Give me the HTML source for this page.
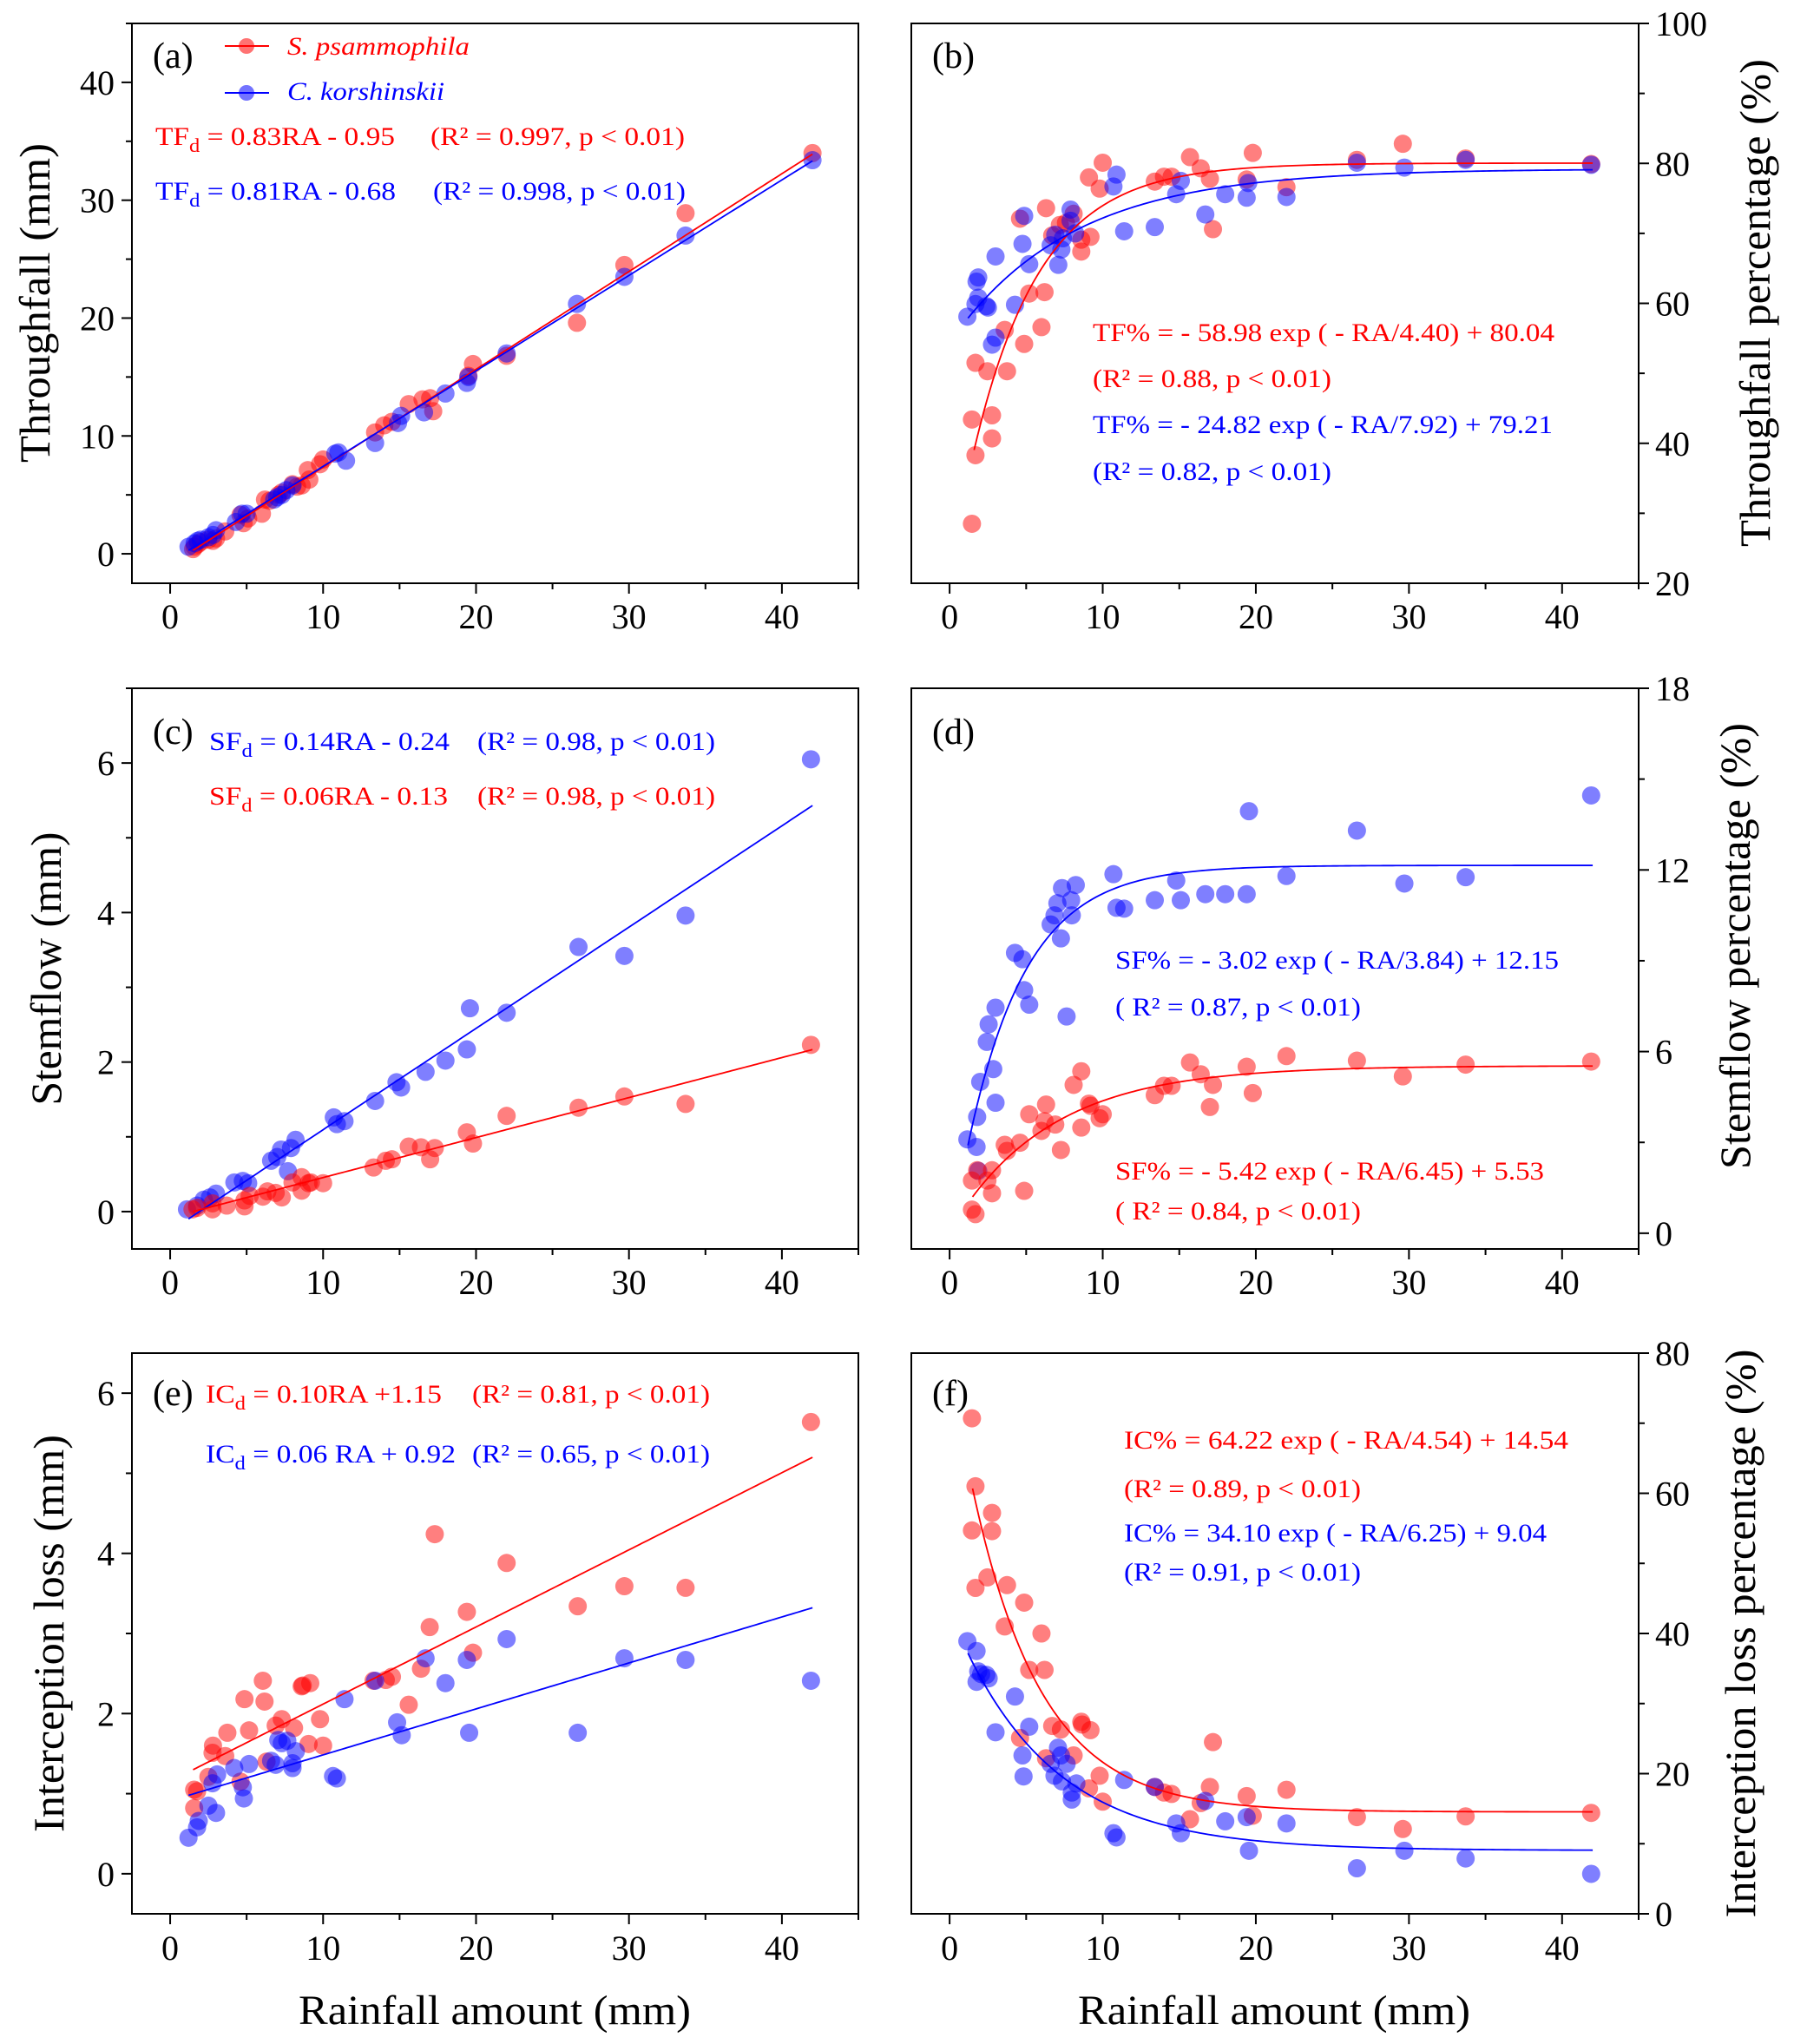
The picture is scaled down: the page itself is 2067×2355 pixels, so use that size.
<!DOCTYPE html>
<html><head><meta charset="utf-8">
<style>
html,body{margin:0;padding:0;background:#fff;}
svg{display:block;font-family:"Liberation Serif","Times New Roman",serif;}
</style></head>
<body>
<svg id="fig" xmlns="http://www.w3.org/2000/svg" width="2067" height="2355" viewBox="0 0 2067 2355" font-family="Liberation Serif, serif"></svg>
<script>
// ---------- DATA ----------
// (a) throughfall depth (mm)
const aRedX = [1.5,1.6,1.8,2.0,2.5,2.8,3.0,3.6,4.6,4.8,5.1,6.0,6.2,6.5,7.1,7.3,8.0,8.3,8.6,9.0,9.1,9.8,10.0,13.4,14.0,14.5,15.6,16.5,17.0,17.2,19.5,19.8,22.0,26.6,29.7,33.7,42.0];
const aRedY = [0.4,0.6,0.8,1.0,1.2,1.1,1.3,1.9,3.3,2.6,3.0,3.4,4.6,4.5,5.0,5.2,5.9,5.7,5.8,7.1,6.3,7.6,8.0,10.3,10.9,11.2,12.7,13.1,13.2,12.1,15.1,16.1,16.8,19.6,24.5,28.9,34.0];
const aBlueX = [1.2,1.6,1.8,2.0,2.5,2.8,3.0,4.3,4.7,5.0,6.8,7.0,7.3,7.6,8.0,10.8,11.0,11.5,13.4,14.9,15.1,16.6,18.0,19.4,19.5,22.0,26.6,29.7,33.7,42.0];
const aBlueY = [0.6,0.9,1.1,1.2,1.4,1.6,2.0,2.7,3.4,3.4,4.6,4.8,5.0,5.4,5.8,8.5,8.6,7.9,9.4,11.1,11.7,12.0,13.6,14.5,15.0,17.0,21.2,23.5,27.0,33.4];
const aFitRed = [0.83,-0.95], aFitBlue = [0.81,-0.68];
// (b) throughfall percentage
const bRedX = [1.46,1.69,1.46,2.77,2.77,1.69,2.47,3.75,3.6,4.87,5.2,6.2,6.0,4.6,6.3,6.7,7.2,7.6,8.1,8.6,8.6,9.2,9.1,9.8,10.0,13.4,14.0,14.5,15.7,16.4,17.0,17.2,19.4,19.8,22.0,26.6,29.6,33.7,41.9];
const bRedY = [28.5,38.3,43.4,44.0,40.7,51.5,50.3,50.3,56.2,54.2,61.4,61.6,56.6,72.1,73.6,69.7,71.2,71.5,72.8,69.1,67.4,69.5,78.0,76.4,80.1,77.4,78.1,78.1,80.9,79.3,77.8,70.6,77.7,81.5,76.6,80.5,82.8,80.7,79.9];
const bBlueX = [1.16,1.69,1.87,1.76,1.87,2.4,2.5,2.77,3.0,3.0,4.27,4.76,4.87,5.2,6.6,6.9,7.3,7.1,7.4,7.9,7.9,8.2,10.7,10.9,11.4,13.4,14.8,15.1,16.7,18.0,19.4,19.5,22.0,26.6,29.7,33.7,41.9];
const bBlueY = [58.1,59.9,60.8,63.1,63.7,59.6,59.4,54.1,55.1,66.7,59.8,68.5,72.5,65.6,68.3,69.8,67.7,65.5,69.3,73.4,71.8,70.0,76.7,78.4,70.3,70.9,75.6,77.5,72.7,75.6,75.1,77.2,75.2,80.1,79.4,80.5,79.8];
const bFitRed = [-58.98,4.40,80.04], bFitBlue = [-24.82,7.92,79.21];
// (c) stemflow depth (mm)
const cBlueX = [1.1,1.76,2.2,2.6,3.0,4.2,4.75,5.1,6.6,7.0,7.25,7.7,7.9,8.2,10.7,10.9,11.4,13.4,14.8,15.1,16.7,18.0,19.4,19.6,22.0,26.7,29.7,33.7,41.9];
const cBlueY = [0.03,0.08,0.16,0.19,0.24,0.39,0.41,0.38,0.68,0.73,0.83,0.54,0.85,0.96,1.26,1.17,1.21,1.48,1.73,1.66,1.87,2.02,2.17,2.72,2.66,3.54,3.42,3.96,6.05];
const cRedX = [1.46,1.76,2.77,2.77,3.7,4.86,4.86,5.2,6.06,6.36,6.9,7.3,8.0,8.6,8.6,9.05,9.2,10.0,13.3,14.1,14.5,15.6,16.4,17.0,17.3,19.4,19.8,22.0,26.7,29.7,33.7,41.9];
const cRedY = [0.03,0.05,0.03,0.11,0.08,0.07,0.15,0.21,0.2,0.27,0.25,0.19,0.39,0.46,0.28,0.38,0.39,0.38,0.59,0.68,0.7,0.87,0.86,0.7,0.85,1.06,0.91,1.28,1.39,1.54,1.44,2.23];
const cFitBlue = [0.1355,-0.26], cFitRed = [0.0535,-0.08];
// (d) stemflow percentage
const dBlueX = [1.16,1.76,1.8,2.0,1.87,2.85,3.0,2.43,2.55,3.0,4.27,4.76,4.87,5.2,6.6,6.85,7.04,7.27,7.34,7.64,7.94,7.98,8.24,10.7,10.9,11.4,13.4,14.8,15.1,16.7,18.0,19.4,19.55,22.0,26.6,29.7,33.7,41.9];
const dBlueY = [3.1,2.85,3.84,5.0,2.06,5.42,4.31,6.32,6.9,7.45,9.26,9.05,8.03,7.55,10.2,10.5,10.9,9.74,11.4,7.16,11.0,10.5,11.5,11.86,10.75,10.72,11.0,11.65,11.0,11.2,11.2,11.2,13.94,11.8,13.3,11.55,11.76,14.46];
const dRedX = [1.46,1.69,1.46,1.8,2.47,2.77,2.77,3.6,3.75,4.6,4.87,5.2,6.0,6.2,6.3,6.9,7.27,8.1,8.6,8.6,9.1,9.2,9.8,10.0,13.4,14.0,14.5,15.7,16.4,17.0,17.2,19.4,19.8,22.0,26.6,29.6,33.7,41.9];
const dRedY = [0.78,0.63,1.74,2.08,1.74,1.32,2.08,2.92,2.72,2.99,1.4,3.93,3.38,3.7,4.25,3.59,2.75,4.9,3.49,5.35,4.28,4.21,3.8,3.93,4.56,4.87,4.87,5.64,5.25,4.17,4.9,5.5,4.63,5.85,5.7,5.18,5.57,5.67];
const dFitBlue = [-12.64,3.84,12.15], dFitRed = [-5.46,6.45,5.53];
// (e) interception loss (mm)
const eRedX = [1.57,1.57,1.76,2.5,2.8,2.77,3.74,3.6,4.6,4.86,5.16,6.06,6.17,6.3,6.9,7.3,8.1,8.6,8.67,9.16,9.05,9.8,10.0,13.3,14.1,14.5,15.6,16.4,16.97,17.3,19.4,19.8,22.0,26.65,29.7,33.7,41.9];
const eRedY = [0.82,1.05,1.03,1.21,1.6,1.51,1.76,1.47,1.15,2.18,1.79,2.41,2.15,1.4,1.85,1.93,1.82,2.34,2.35,2.38,1.62,1.93,1.6,2.41,2.42,2.46,2.11,2.56,3.08,4.24,3.27,2.76,3.88,3.34,3.59,3.57,5.64];
const eBlueX = [1.2,1.76,1.87,2.5,3.0,2.77,3.07,4.19,4.75,4.82,5.16,6.6,6.9,7.07,7.3,7.66,8.0,8.0,8.22,10.65,10.9,11.4,13.4,14.84,15.14,16.7,18.0,19.4,19.55,22.0,26.65,29.7,33.7,41.9];
const eBlueY = [0.45,0.58,0.66,0.85,0.76,1.13,1.24,1.32,1.08,0.94,1.37,1.41,1.36,1.67,1.63,1.66,1.32,1.38,1.53,1.22,1.19,2.18,2.41,1.89,1.73,2.69,2.38,2.67,1.76,2.93,1.76,2.69,2.67,2.41];
const eFitRed = [0.0963,1.155], eFitBlue = [0.0574,0.91];
// (f) interception loss percentage
const fRedX = [1.46,1.69,1.46,2.77,2.77,1.69,2.47,3.75,3.6,4.87,6.0,5.2,6.2,4.6,6.7,7.27,6.3,8.1,8.6,8.65,9.2,9.1,9.8,10.0,13.4,14.0,14.5,15.7,16.4,17.0,17.2,19.4,19.8,22.0,26.6,29.6,33.7,41.9];
const fRedY = [70.7,61.0,54.7,57.2,54.6,46.5,48.0,46.9,41.0,44.4,40.0,34.8,34.8,25.1,26.8,26.3,22.2,22.6,27.4,27.0,26.2,17.9,19.7,16.0,18.1,17.3,17.1,13.5,15.8,18.1,24.5,16.8,14.0,17.7,13.8,12.1,13.9,14.4];
const fBlueX = [1.16,1.76,1.87,2.06,1.76,2.4,2.55,3.0,4.27,4.76,4.83,5.2,6.6,6.85,7.08,7.27,7.34,7.64,7.98,7.98,8.28,10.7,10.9,11.4,13.4,14.8,15.1,16.7,18.0,19.4,19.55,22.0,26.6,29.7,33.7,41.9];
const fBlueY = [38.9,37.5,34.6,34.2,33.1,34.1,33.6,25.9,31.0,22.6,19.6,26.7,21.4,19.7,23.7,22.6,18.9,21.4,17.3,16.3,18.6,11.5,10.9,19.1,18.1,12.9,11.5,16.1,13.2,13.8,9.0,12.9,6.5,9.0,7.9,5.7];
const fFitRed = [64.22,4.54,14.54], fFitBlue = [34.10,6.25,9.04];
// axis ticks
const xTicks = [0,10,20,30,40];
const aYTicks = [0,10,20,30,40];
const bYTicks = [20,40,60,80,100];
const cYTicks = [0,2,4,6];
const dYTicks = [0,6,12,18];
const eYTicks = [0,2,4,6];
const fYTicks = [0,20,40,60,80];

// ---------- DRAWING ----------
const NS = 'http://www.w3.org/2000/svg';
const svg = document.getElementById('fig');
function mk(tag, attrs, parent){
  const e = document.createElementNS(NS, tag);
  for (const k in attrs) e.setAttribute(k, attrs[k]);
  (parent||svg).appendChild(e);
  return e;
}
const RED='#ff0000', BLUE='#0000ff';

function panel(cfg){
  const g = mk('g', {});
  
  
  const L=cfg.L,R=cfg.R,T=cfg.T,B=cfg.B;
  const xs = v => L + (v - (-2.5)) / 47.5 * (R - L);
  const ys = v => B - (v - cfg.ymin) / (cfg.ymax - cfg.ymin) * (B - T);
  const frame = mk('rect', {x:L,y:T,width:R-L,height:B-T,fill:'none',stroke:'#000','stroke-width':2}, g);
  
  
  for (let v=0; v<=45; v+=5){
    const major = v%10===0;
    mk('line',{x1:xs(v),x2:xs(v),y1:B,y2:B+(major?12:7),stroke:'#000','stroke-width':2},g);
  }
  xTicks.forEach(v=>{
    const t = mk('text',{x:xs(v),y:cfg.xlabY,'font-size':40,'text-anchor':'middle'},g);
    t.textContent = v;
    
    
  });
  const yt = cfg.yticks;
  const step = (yt[1]-yt[0])/2;
  for (let v=yt[0]; v<=cfg.ymax+1e-9; v+=step){
    const major = Math.abs(((v-yt[0])/(step*2)) - Math.round((v-yt[0])/(step*2)))<1e-6;
    const y = ys(v);
    if (cfg.right) mk('line',{x1:R,x2:R+(major?12:7),y1:y,y2:y,stroke:'#000','stroke-width':2},g);
    else mk('line',{x1:L,x2:L-(major?12:7),y1:y,y2:y,stroke:'#000','stroke-width':2},g);
  }
  yt.forEach(v=>{
    const t = cfg.right
      ? mk('text',{x:R+19,y:ys(v)+14,'font-size':40,'text-anchor':'start'},g)
      : mk('text',{x:L-20,y:ys(v)+14,'font-size':40,'text-anchor':'end'},g);
    t.textContent = v;
    
    
  });
  const cid = 'clip-'+cfg.id;
  const cp = mk('clipPath',{id:cid},g);
  mk('rect',{x:L,y:T,width:R-L,height:B-T},cp);
  const inner = mk('g',{'clip-path':'url(#'+cid+')'},g);
  cfg.series.forEach(s=>{
    const sg = mk('g',{},inner);
    
    
    s.x.forEach((xv,i)=>{
      const c = mk('circle',{cx:xs(xv),cy:ys(s.y[i]),r:10.5,fill:s.color,'fill-opacity':0.5},sg);
      
      
    });
  });
  cfg.fits.forEach(f=>{
    let d='';
    const n=200;
    for(let i=0;i<=n;i++){
      const xv = f.x0 + (f.x1-f.x0)*i/n;
      const yv = f.fn(xv);
      d += (i?'L':'M') + xs(xv).toFixed(2) + ',' + ys(yv).toFixed(2);
    }
    const p = mk('path',{d:d,fill:'none',stroke:f.color,'stroke-width':1.8},inner);
    
    
  });
  const lt = mk('text',{x:L+24,y:cfg.labY,'font-size':42},g);
  lt.textContent = '(' + cfg.id + ')';
  
  
  const yt2 = mk('text',{x:0,y:0,'font-size':50,'text-anchor':'middle','transform':'translate('+cfg.yTitle[0]+','+cfg.yTitle[1]+') rotate(-90)','textLength':cfg.yTitle[3],'lengthAdjust':'spacingAndGlyphs',dy:17},g);
  yt2.textContent = cfg.yTitle[2];
  
  
  return g;
}

function lin(p){ return x => p[0]*x + p[1]; }
function expf(p){ return x => p[0]*Math.exp(-x/p[1]) + p[2]; }

function eq(parts, x, y, color, len, name){
  const t = mk('text',{x:x,y:y,'font-size':30,fill:color,textLength:len,lengthAdjust:'spacingAndGlyphs'});
  parts.forEach(pt=>{
    const s = mk('tspan',{},t);
    if (pt.sub){ s.setAttribute('font-size',22); s.setAttribute('dy',8); }
    else if (pt.back){ s.setAttribute('dy',-8); }
    s.textContent = pt.t;
  });
  
  
}

const Lx=[152,989], Rx=[1050,1888];
const rows=[[27,672],[793,1439],[1559,2205]];

panel({id:'a',L:Lx[0],R:Lx[1],T:rows[0][0],B:rows[0][1],ymin:-2.5,ymax:45,yticks:aYTicks,right:false,xlabY:724,labY:78,
  yTitle:[40,349,'Throughfall (mm)',368],
  series:[{name:'s-psammophila-points',x:aRedX,y:aRedY,color:RED},{name:'c-korshinskii-points',x:aBlueX,y:aBlueY,color:BLUE}],
  fits:[{name:'red-linear-fit',x0:1.5,x1:42,fn:lin(aFitRed),color:RED},{name:'blue-linear-fit',x0:1.2,x1:42,fn:lin(aFitBlue),color:BLUE}]});
panel({id:'b',L:Rx[0],R:Rx[1],T:rows[0][0],B:rows[0][1],ymin:20,ymax:100,yticks:bYTicks,right:true,xlabY:724,labY:78,
  yTitle:[2022,349,'Throughfall percentage (%)',562],
  series:[{name:'s-psammophila-points',x:bRedX,y:bRedY,color:RED},{name:'c-korshinskii-points',x:bBlueX,y:bBlueY,color:BLUE}],
  fits:[{name:'red-exp-fit',x0:1.6,x1:42,fn:expf(bFitRed),color:RED},{name:'blue-exp-fit',x0:1.2,x1:42,fn:expf(bFitBlue),color:BLUE}]});
panel({id:'c',L:Lx[0],R:Lx[1],T:rows[1][0],B:rows[1][1],ymin:-0.5,ymax:7,yticks:cYTicks,right:false,xlabY:1491,labY:857,
  yTitle:[53,1116,'Stemflow (mm)',315],
  series:[{name:'c-korshinskii-points',x:cBlueX,y:cBlueY,color:BLUE},{name:'s-psammophila-points',x:cRedX,y:cRedY,color:RED}],
  fits:[{name:'blue-linear-fit',x0:1.2,x1:42,fn:lin(cFitBlue),color:BLUE},{name:'red-linear-fit',x0:1.5,x1:42,fn:lin(cFitRed),color:RED}]});
panel({id:'d',L:Rx[0],R:Rx[1],T:rows[1][0],B:rows[1][1],ymin:-0.52,ymax:18,yticks:dYTicks,right:true,xlabY:1491,labY:857,
  yTitle:[1999,1090,'Stemflow percentage (%)',514],
  series:[{name:'c-korshinskii-points',x:dBlueX,y:dBlueY,color:BLUE},{name:'s-psammophila-points',x:dRedX,y:dRedY,color:RED}],
  fits:[{name:'blue-exp-fit',x0:1.2,x1:42,fn:expf(dFitBlue),color:BLUE},{name:'red-exp-fit',x0:1.5,x1:42,fn:expf(dFitRed),color:RED}]});
panel({id:'e',L:Lx[0],R:Lx[1],T:rows[2][0],B:rows[2][1],ymin:-0.5,ymax:6.5,yticks:eYTicks,right:false,xlabY:2258,labY:1619,
  yTitle:[56,1882,'Interception loss (mm)',458],
  series:[{name:'s-psammophila-points',x:eRedX,y:eRedY,color:RED},{name:'c-korshinskii-points',x:eBlueX,y:eBlueY,color:BLUE}],
  fits:[{name:'red-linear-fit',x0:1.5,x1:42,fn:lin(eFitRed),color:RED},{name:'blue-linear-fit',x0:1.2,x1:42,fn:lin(eFitBlue),color:BLUE}]});
panel({id:'f',L:Rx[0],R:Rx[1],T:rows[2][0],B:rows[2][1],ymin:0,ymax:80,yticks:fYTicks,right:true,xlabY:2258,labY:1619,
  yTitle:[2005,1882,'Interception loss percentage (%)',655],
  series:[{name:'s-psammophila-points',x:fRedX,y:fRedY,color:RED},{name:'c-korshinskii-points',x:fBlueX,y:fBlueY,color:BLUE}],
  fits:[{name:'red-exp-fit',x0:1.5,x1:42,fn:expf(fFitRed),color:RED},{name:'blue-exp-fit',x0:1.2,x1:42,fn:expf(fFitBlue),color:BLUE}]});

[[570,'x-axis-title-e'],[1468,'x-axis-title-f']].forEach(a=>{
  const t = mk('text',{x:a[0],y:2332,'font-size':48,'text-anchor':'middle',textLength:452,lengthAdjust:'spacingAndGlyphs'});
  t.textContent='Rainfall amount (mm)';
  
  
});

[[53,RED,'S. psammophila',63,210,'legend-entry-s-psammophila'],[107,BLUE,'C. korshinskii',115,181,'legend-entry-c-korshinskii']].forEach(l=>{
  const g = mk('g',{});
  
  
  mk('line',{x1:259,x2:310,y1:l[0],y2:l[0],stroke:l[1],'stroke-width':2},g);
  mk('circle',{cx:284,cy:l[0],r:9,fill:l[1],'fill-opacity':0.55},g);
  const t = mk('text',{x:331,y:l[3],'font-size':30,'font-style':'italic',fill:l[1],textLength:l[4],lengthAdjust:'spacingAndGlyphs'},g);
  t.textContent=l[2];
});

eq([{t:'TF'},{t:'d',sub:1},{t:' = 0.83RA - 0.95',back:1}],179,167,RED,276,'eq-a-red');
eq([{t:'(R² = 0.997, p < 0.01)'}],496,167,RED,293,'stats-a-red');
eq([{t:'TF'},{t:'d',sub:1},{t:' = 0.81RA - 0.68',back:1}],179,230,BLUE,277,'eq-a-blue');
eq([{t:'(R² = 0.998, p < 0.01)'}],499,230,BLUE,291,'stats-a-blue');

eq([{t:'TF% = - 58.98 exp ( - RA/4.40) + 80.04'}],1259,393,RED,532,'eq-b-red');
eq([{t:'(R² = 0.88, p < 0.01)'}],1259,446,RED,275,'stats-b-red');
eq([{t:'TF% = - 24.82 exp ( - RA/7.92) + 79.21'}],1259,499,BLUE,530,'eq-b-blue');
eq([{t:'(R² = 0.82, p < 0.01)'}],1259,553,BLUE,275,'stats-b-blue');

eq([{t:'SF'},{t:'d',sub:1},{t:' = 0.14RA - 0.24',back:1}],241,864,BLUE,277,'eq-c-blue');
eq([{t:'(R² = 0.98, p < 0.01)'}],550,864,BLUE,274,'stats-c-blue');
eq([{t:'SF'},{t:'d',sub:1},{t:' = 0.06RA - 0.13',back:1}],241,927,RED,275,'eq-c-red');
eq([{t:'(R² = 0.98, p < 0.01)'}],550,927,RED,274,'stats-c-red');

eq([{t:'SF% = - 3.02 exp ( - RA/3.84) + 12.15'}],1285,1116,BLUE,511,'eq-d-blue');
eq([{t:'( R² = 0.87, p < 0.01)'}],1285,1170,BLUE,283,'stats-d-blue');
eq([{t:'SF% = - 5.42 exp ( - RA/6.45) + 5.53'}],1285,1359,RED,494,'eq-d-red');
eq([{t:'( R² = 0.84, p < 0.01)'}],1285,1405,RED,283,'stats-d-red');

eq([{t:'IC'},{t:'d',sub:1},{t:' = 0.10RA +1.15',back:1}],237,1616,RED,272,'eq-e-red');
eq([{t:'(R² = 0.81, p < 0.01)'}],544,1616,RED,274,'stats-e-red');
eq([{t:'IC'},{t:'d',sub:1},{t:' = 0.06 RA + 0.92',back:1}],237,1685,BLUE,288,'eq-e-blue');
eq([{t:'(R² = 0.65, p < 0.01)'}],544,1685,BLUE,274,'stats-e-blue');

eq([{t:'IC% =  64.22 exp ( - RA/4.54) + 14.54'}],1295,1669,RED,512,'eq-f-red');
eq([{t:'(R² = 0.89, p < 0.01)'}],1295,1725,RED,273,'stats-f-red');
eq([{t:'IC% = 34.10 exp ( - RA/6.25) + 9.04'}],1295,1776,BLUE,487,'eq-f-blue');
eq([{t:'(R² = 0.91, p < 0.01)'}],1295,1821,BLUE,273,'stats-f-blue');
</script>
</body></html>
